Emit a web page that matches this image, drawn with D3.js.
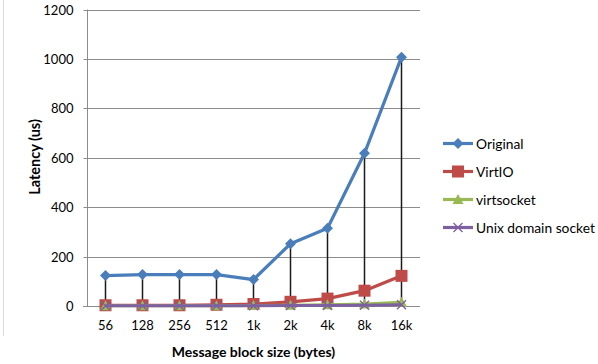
<!DOCTYPE html>
<html><head><meta charset="utf-8">
<script src="https://cdn.jsdelivr.net/npm/d3@7"></script>
<style>body{margin:0;background:#fff}svg{display:block}</style>
</head><body>
<svg id="c" width="598" height="364"></svg>
<script>
const categories = ["56","128","256","512","1k","2k","4k","8k","16k"];
const original = [123,127,127,127,107,252,315,618,1007];
const virtio = [3,3,3,5,8,17,30,62,122];
const virtsocket = [1,1,1,1,2,3,5,8,15];
const unixSocket = [1,1,1,1,1,2,2,3,5];
const yTicks = [0,200,400,600,800,1000,1200];
const seriesNames = ["Original","VirtIO","virtsocket","Unix domain socket"];

const series = [
  {name: seriesNames[0], values: original, color: "#4A7EBB", marker: "diamond"},
  {name: seriesNames[1], values: virtio, color: "#BE4B48", marker: "square"},
  {name: seriesNames[2], values: virtsocket, color: "#98B954", marker: "triangle"},
  {name: seriesNames[3], values: unixSocket, color: "#7D60A0", marker: "x"}
];

const svg = d3.select("#c");
const font = "Lato, 'Open Sans', sans-serif";
const m = {l: 87, r: 420, t: 9.5, b: 306};
const x = d3.scaleBand().domain(categories).range([m.l, m.r]);
const y = d3.scaleLinear().domain([0, 1200]).range([m.b, m.t]);
const cx = c => x(c) + x.bandwidth() / 2;

// faint chart border
svg.append("line").attr("x1", 3.5).attr("x2", 3.5).attr("y1", 0).attr("y2", 336)
  .attr("stroke", "#d9d9d9").attr("stroke-width", 1);

// gridlines
svg.append("g").selectAll("line").data(yTicks.filter(d => d > 0)).join("line")
  .attr("x1", m.l).attr("x2", m.r)
  .attr("y1", d => Math.round(y(d)) + 0.5).attr("y2", d => Math.round(y(d)) + 0.5)
  .attr("stroke", "#8c8c8c").attr("stroke-width", 1);

// y axis
const yAxis = svg.append("g").attr("transform", `translate(${m.l + 0.5},0)`)
  .call(d3.axisLeft(y).tickValues(yTicks).tickSize(4).tickPadding(10).tickFormat(d3.format("d")));
yAxis.select(".domain").attr("stroke", "#8c8c8c").attr("d", `M-4,${m.b + 0.5}H0V${m.t}`);
yAxis.selectAll(".tick line").attr("stroke", "#8c8c8c");
yAxis.selectAll(".tick").attr("transform", d => `translate(0,${Math.round(y(d)) + 0.5})`);
yAxis.selectAll("text").attr("font-family", font).attr("font-size", 13).attr("fill", "#000");

// x axis
const xAxis = svg.append("g").attr("transform", `translate(0,${m.b + 0.5})`)
  .call(d3.axisBottom(x).tickSize(0).tickPadding(14));
xAxis.select(".domain").attr("stroke", "#8c8c8c").attr("d", `M${m.l - 4},0H${m.r}`);
xAxis.selectAll("text").attr("font-family", font).attr("font-size", 13).attr("fill", "#000");

// drop lines
svg.append("g").selectAll("line").data(categories).join("line")
  .attr("x1", d => cx(d)).attr("x2", d => cx(d))
  .attr("y1", (d, i) => y(d3.max(series, s => s.values[i])))
  .attr("y2", y(0))
  .attr("stroke", "#1a1a1a").attr("stroke-width", 1.5);

function drawMarker(g, type, color, px, py) {
  if (type === "diamond") {
    g.append("path").attr("d", `M${px},${py-5.5}L${px+5.5},${py}L${px},${py+5.5}L${px-5.5},${py}Z`).attr("fill", color);
  } else if (type === "square") {
    g.append("rect").attr("x", px-6).attr("y", py-6).attr("width", 12).attr("height", 12).attr("fill", color);
  } else if (type === "triangle") {
    g.append("path").attr("d", `M${px},${py-5.5}L${px+5.5},${py+4.5}L${px-5.5},${py+4.5}Z`).attr("fill", color);
  } else {
    g.append("path").attr("d", `M${px-4.5},${py-4.5}L${px+4.5},${py+4.5}M${px-4.5},${py+4.5}L${px+4.5},${py-4.5}`)
      .attr("stroke", color).attr("stroke-width", 1.3).attr("fill", "none");
  }
}

const line = d3.line().x((d, i) => cx(categories[i])).y(d => y(d));
series.forEach(s => {
  const g = svg.append("g");
  g.append("path").datum(s.values).attr("d", line).attr("fill", "none")
    .attr("stroke", s.color).attr("stroke-width", 3.2).attr("stroke-linejoin", "round");
  s.values.forEach((v, i) => drawMarker(g, s.marker, s.color, cx(categories[i]), y(v)));
});

// axis titles
svg.append("text").attr("transform", "translate(40,157) rotate(-90)")
  .attr("text-anchor", "middle").attr("font-family", font).attr("font-weight", "bold")
  .attr("font-size", 14.5).text("Latency (us)");
svg.append("text").attr("x", 253.5).attr("y", 357)
  .attr("text-anchor", "middle").attr("font-family", font).attr("font-weight", "bold")
  .attr("font-size", 14).text("Message block size (bytes)");

// legend
const legend = svg.append("g");
series.forEach((s, i) => {
  const ly = 143.5 + i * 28;
  legend.append("line").attr("x1", 443).attr("x2", 473).attr("y1", ly).attr("y2", ly)
    .attr("stroke", s.color).attr("stroke-width", 3.2);
  drawMarker(legend, s.marker, s.color, 458, ly);
  legend.append("text").attr("x", 476).attr("y", ly + 5)
    .attr("font-family", font).attr("font-size", 13.8).text(s.name);
});
</script>
</body></html>
